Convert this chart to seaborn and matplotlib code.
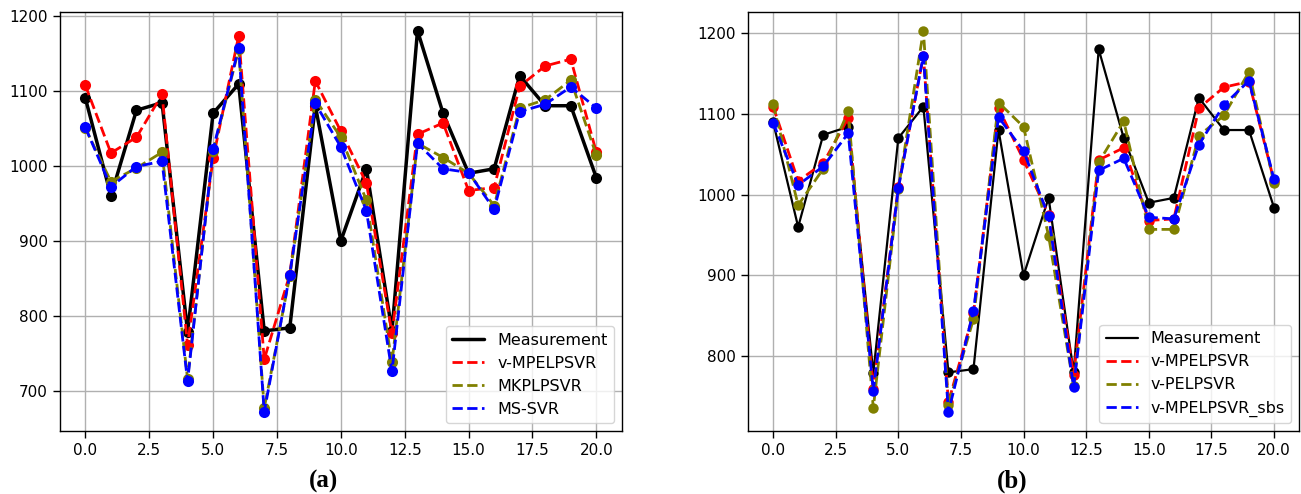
import numpy as np
import matplotlib
matplotlib.use("Agg")
import matplotlib.pyplot as plt
import seaborn as sns
from matplotlib.lines import Line2D

# sample index 0..20
samples = list(range(21))

measurement = [1090, 960, 1074, 1084, 779, 1070, 1109, 780, 784, 1080, 900,
               996, 780, 1180, 1070, 990, 996, 1120, 1080, 1080, 984]

# panel (a)
a_mpelpsvr = [1107, 1017, 1038, 1095, 761, 1010, 1173, 742, 855, 1113, 1046,
              977, 777, 1042, 1057, 967, 971, 1106, 1133, 1142, 1018]
a_mkplpsvr = [1050, 979, 997, 1018, 716, 1020, 1155, 677, 853, 1088, 1038,
              954, 738, 1030, 1011, 990, 947, 1077, 1088, 1114, 1014]
a_mssvr = [1051, 972, 999, 1006, 713, 1022, 1157, 672, 855, 1083, 1025,
           940, 726, 1030, 996, 991, 942, 1072, 1082, 1105, 1077]

# panel (b)
b_mpelpsvr = [1109, 1017, 1039, 1095, 760, 1010, 1172, 743, 853, 1107, 1043,
              975, 777, 1043, 1058, 968, 970, 1107, 1133, 1140, 1017]
b_pelpsvr = [1112, 987, 1032, 1103, 736, 1007, 1203, 740, 846, 1114, 1084,
             949, 763, 1040, 1091, 957, 957, 1073, 1098, 1152, 1014]
b_mpelpsvr_sbs = [1089, 1012, 1035, 1076, 757, 1008, 1172, 731, 856, 1096, 1054,
                  973, 762, 1030, 1045, 972, 970, 1062, 1111, 1141, 1019]

labels_a = ["Measurement", "v-MPELPSVR", "MKPLPSVR", "MS-SVR"]
labels_b = ["Measurement", "v-MPELPSVR", "v-PELPSVR", "v-MPELPSVR_sbs"]
colors = ["black", "red", "olive", "blue"]

sns.set_theme(style="ticks")
plt.rcParams["font.family"] = ["DejaVu Sans"]
plt.rcParams["xtick.labelsize"] = 11
plt.rcParams["ytick.labelsize"] = 11
plt.rcParams["text.color"] = "black"

fig = plt.figure(figsize=(13.01, 4.94), dpi=100)
ax1 = fig.add_axes([0.046, 0.1275, 0.432, 0.849])
ax2 = fig.add_axes([0.575, 0.1275, 0.4235, 0.849])


def draw(ax, series, labels, black_lw, ms):
    for i, (vals, c) in enumerate(zip(series, colors)):
        ls = "-" if i == 0 else "--"
        lw = black_lw if i == 0 else 2
        sns.lineplot(x=samples, y=vals, ax=ax, color=c, linestyle=ls, linewidth=lw,
                     marker="o", markersize=ms, markeredgecolor=c, markeredgewidth=0)
    ax.grid(True, color="#b0b0b0", linewidth=1)
    ax.set_xticks([0, 2.5, 5, 7.5, 10, 12.5, 15, 17.5, 20])
    ax.set_xticklabels(["0.0", "2.5", "5.0", "7.5", "10.0", "12.5", "15.0", "17.5", "20.0"])
    ax.tick_params(length=5, width=1, colors="black")
    for s in ax.spines.values():
        s.set_color("black")
        s.set_linewidth(1)
    handles = [Line2D([], [], color=c, linestyle="-" if i == 0 else "--",
                      linewidth=black_lw if i == 0 else 2)
               for i, c in enumerate(colors)]
    leg = ax.legend(handles, labels, loc="lower right", fontsize=11.5, frameon=True,
                    framealpha=0.8, edgecolor="#cccccc", fancybox=True)
    for t in leg.get_texts():
        t.set_color("black")


draw(ax1, [measurement, a_mpelpsvr, a_mkplpsvr, a_mssvr], labels_a, 2.5, 8)
draw(ax2, [measurement, b_mpelpsvr, b_pelpsvr, b_mpelpsvr_sbs], labels_b, 1.6, 7.5)
ax1.set_xlim(-1, 21)
ax2.set_xlim(-1, 21)
ax1.set_yticks([700, 800, 900, 1000, 1100, 1200])
ax2.set_yticks([800, 900, 1000, 1100, 1200])

fig.text(0.249, 0.012, "(a)", fontsize=18, fontweight="bold", family="Liberation Serif",
         ha="center", color="black")
fig.text(0.778, 0.012, "(b)", fontsize=18, fontweight="bold", family="Liberation Serif",
         ha="center", color="black")

fig.savefig("out.png", dpi=100)
